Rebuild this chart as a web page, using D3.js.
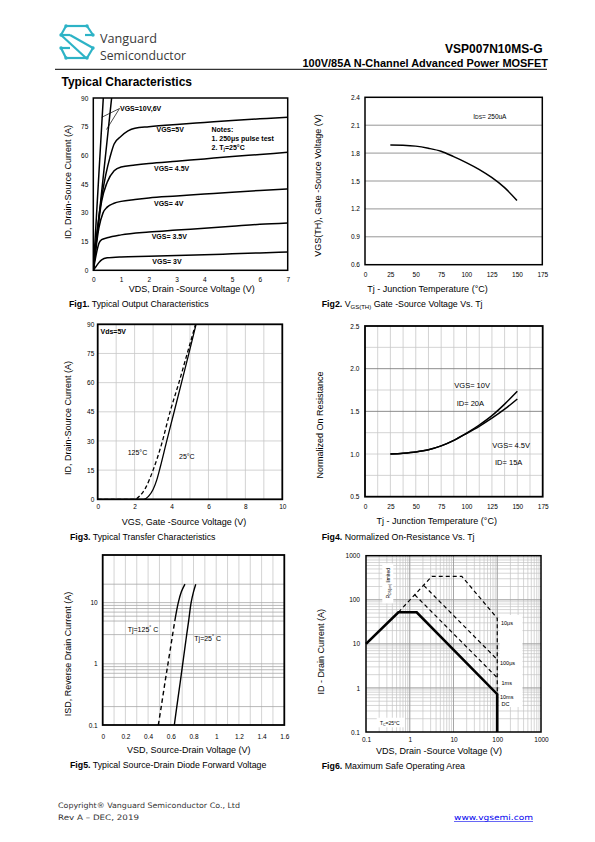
<!DOCTYPE html>
<html><head><meta charset="utf-8">
<script src="https://cdn.jsdelivr.net/npm/d3@7"></script>
<style>
body{margin:0;background:#fff}
svg{display:block}
</style></head><body>
<svg id="page" width="595" height="842"></svg>
<script>
// ================= DATA =================
// Fig1 – output characteristics  [VDS (V), ID (A)]
const fig1XTicks = [0,1,2,3,4,5,6,7];
const fig1YTicks = [0,15,30,45,60,75,90];
const fig1Vgs10 = [[0,0],[0.18,45],[0.36,90]];
const fig1Vgs6  = [[0,0],[0.33,45],[0.66,90]];
const fig1Vgs5  = [[0,0],[0.15,22],[0.3,38],[0.45,50],[0.6,59],[0.75,66],[1,70],[1.25,72.8],[1.5,74.2],[2,75],[3,76.2],[4,77.2],[5,78.2],[6,79.1],[7,80]];
const fig1Vgs45 = [[0,0],[0.15,20],[0.3,36],[0.5,46],[0.75,52],[1,54],[1.5,55],[2,55.8],[3,57],[4,58.2],[5,59.4],[6,60.5],[7,61.6]];
const fig1Vgs4  = [[0,0],[0.1,12],[0.2,22],[0.35,30],[0.5,33],[0.75,35],[1,36],[1.5,37],[2,37.8],[3,38.8],[4,39.8],[5,40.8],[6,41.7],[7,42.5]];
const fig1Vgs35 = [[0,0],[0.1,8],[0.2,14],[0.3,16],[0.5,17],[1,18.5],[2,20],[3,21],[4,22],[5,23],[6,24],[7,24.7]];
const fig1Vgs3  = [[0,0],[0.1,2],[0.2,4],[0.3,5.5],[0.5,6.5],[1,7],[2,7.3],[3,7.7],[4,8.1],[5,8.6],[6,9.1],[7,9.6]];

// Fig2 – VGS(th) vs Tj
const fig2XTicks = [0,25,50,75,100,125,150,175];
const fig2YTicks = [0.6,0.9,1.2,1.5,1.8,2.1,2.4];
const fig2Tj  = [25,37.5,50,62.5,75,87.5,100,112.5,125,137.5,150];
const fig2Vth = [1.887,1.885,1.875,1.852,1.82,1.762,1.698,1.625,1.538,1.431,1.29];

// Fig3 – transfer characteristics
const fig3XTicks = [0,2,4,6,8,10];
const fig3YTicks = [0,15,30,45,60,75,90];
const fig3Vgs25  = [0,2.5,2.75,3.0,3.2,3.4,3.7,4.1,4.5,4.9,5.33];
const fig3Id25   = [0,0,1.5,5,10,17,28.5,43.5,58.5,73.5,90];
const fig3Vgs125 = [0,2.0,2.3,2.6,3.0,3.45,3.92,4.4,4.85,5.3];
const fig3Id125  = [0,0,2,6,15,28,45,60,75,90];

// Fig4 – normalized RDS(on) vs Tj
const fig4XTicks = [0,25,50,75,100,125,150,175];
const fig4YTicks = [0.5,1.0,1.5,2.0,2.5];
const fig4Tj       = [25,37.5,50,62.5,75,87.5,100,112.5,125,137.5,150];
const fig4RVgs10   = [1.0,1.01,1.025,1.05,1.095,1.16,1.245,1.34,1.45,1.585,1.735];
const fig4RVgs45   = [1.0,1.01,1.025,1.05,1.095,1.16,1.24,1.325,1.42,1.525,1.645];

// Fig5 – body diode forward voltage
const fig5XTicks = [0,0.2,0.4,0.6,0.8,1,1.2,1.4,1.6];
const fig5YTicks = [0.1,1,10];
const fig5YGrid  = [0.2,0.6,0.7,0.8,0.9,1,3,5,6,7,8,9,10,20];
const fig5Isd    = [0.1,0.2,0.5,1,2,3,5,10,15,20];
const fig5Vsd125 = [0.49,0.516,0.549,0.575,0.601,0.616,0.635,0.666,0.693,0.725];
const fig5Vsd25  = [0.631,0.653,0.683,0.705,0.727,0.740,0.757,0.779,0.80,0.82];

// Fig6 – safe operating area [VDS, ID]
const fig6XTicks = [0.1,1,10,100,1000];
const fig6YTicks = [0.1,1,10,100,1000];
const fig6Dc    = [[0.1,10],[0.55,52],[1.44,52],[100,0.72],[100,0.1]];
const fig6Us10  = [[0.55,52],[3.2,340],[15.5,340],[100,38],[100,0.72]];
const fig6Us100 = [[2.1,210],[100,4.4]];
const fig6Ms1   = [[1.3,130],[100,1.7]];

// ================= DRAWING =================
const svg = d3.select("#page");
const SANS = "'Liberation Sans', Arial, Helvetica, sans-serif";
const NARROW = "'Liberation Sans Narrow', 'Arial Narrow', 'Liberation Sans', Arial, sans-serif";

function txt(g, x, y, s, o = {}) {
  const t = g.append("text").attr("x", x).attr("y", y)
    .attr("font-family", o.family || SANS)
    .attr("font-size", o.size || 9)
    .attr("font-weight", o.weight || "normal")
    .attr("fill", o.fill || "#000")
    .attr("text-anchor", o.anchor || "start");
  if (o.rotate) t.attr("transform", `rotate(-90,${x},${y})`);
  if (o.len) t.attr("textLength", o.len).attr("lengthAdjust", "spacingAndGlyphs");
  t.text(s);
  return t;
}

function axes(g, x, y, xt, yt, o) {
  const fmt = o.fmt || (d => d);
  const ax = g.append("g").attr("transform", `translate(0,${y.range()[0]})`)
    .call(d3.axisBottom(x).tickValues(xt).tickFormat(o.xfmt || fmt).tickSize(0).tickPadding(o.xpad));
  ax.select(".domain").remove();
  ax.attr("font-size", o.tsize || 6.5).attr("font-family", o.tfam || SANS);
  ax.selectAll("text").attr("fill", "#000");
  const ay = g.append("g").attr("transform", `translate(${x.range()[0]},0)`)
    .call(d3.axisLeft(y).tickValues(yt).tickFormat(o.yfmt || fmt).tickSize(0).tickPadding(o.ypad));
  ay.select(".domain").remove();
  ay.attr("font-size", o.tsize || 6.5).attr("font-family", o.tfam || SANS);
  ay.selectAll("text").attr("fill", "#000");
}

function frame(g, x, y, w) {
  const [x0, x1] = x.range(), [y0, y1] = y.range();
  g.append("rect").attr("x", x0).attr("y", y1).attr("width", x1 - x0).attr("height", y0 - y1)
    .attr("fill", "none").attr("stroke", "#000").attr("stroke-width", w || 1.6);
}
function hgrid(g, x, y, vals, color, w) {
  g.append("g").selectAll("line").data(vals).join("line")
    .attr("x1", x.range()[0]).attr("x2", x.range()[1])
    .attr("y1", d => y(d)).attr("y2", d => y(d))
    .attr("stroke", color).attr("stroke-width", w || 0.8);
}
function vgrid(g, x, y, vals, color, w) {
  g.append("g").selectAll("line").data(vals).join("line")
    .attr("y1", y.range()[0]).attr("y2", y.range()[1])
    .attr("x1", d => x(d)).attr("x2", d => x(d))
    .attr("stroke", color).attr("stroke-width", w || 0.8);
}
function caption(g, x, y, bold, rest) {
  const t = g.append("text").attr("x", x).attr("y", y).attr("font-family", SANS).attr("font-size", 8.8);
  t.append("tspan").attr("font-weight", "bold").text(bold);
  t.append("tspan").text(rest);
  return t;
}

// ---------- Header ----------
const hdr = svg.append("g");
const teal = "#2db3c6";
const logo = hdr.append("g").attr("stroke", teal).attr("stroke-width", 2.2).attr("fill", "none").attr("stroke-linejoin", "round");
const logoSegs = [
  [[66,26],[87,26]],[[87,26],[93,35]],[[66,26],[61,35]],[[61,35],[70,35]],[[93,35],[85,35]],
  [[61,35],[86,58]],[[70,35],[93,48]],
  [[93,48],[87,58]],[[61,48],[66,58]],[[66,58],[87,58]],[[61,48],[70,48]]
];
logo.selectAll("path").data(logoSegs).join("path").attr("d", d => d3.line()(d));
logo.selectAll("circle").data([[66,26],[87,26],[93,35],[61,35],[61,48],[93,48],[66,58],[87,58]]).join("circle")
  .attr("cx", d => d[0]).attr("cy", d => d[1]).attr("r", 1.7).attr("fill", teal).attr("stroke", "none");
txt(hdr, 100, 43, "Vanguard", {size: 13, fill: "#3a3a3a", family: "'Open Sans', 'Liberation Sans', sans-serif", len: 57});
txt(hdr, 100, 60, "Semiconductor", {size: 13, fill: "#3a3a3a", family: "'Open Sans', 'Liberation Sans', sans-serif", len: 86});
txt(hdr, 542.5, 53, "VSP007N10MS-G", {size: 12, weight: "bold", anchor: "end"});
txt(hdr, 302.5, 66.5, "100V/85A N-Channel Advanced Power MOSFET", {size: 10, weight: "bold", len: 245.5});
hdr.append("line").attr("x1", 55).attr("x2", 547).attr("y1", 69.3).attr("y2", 69.3).attr("stroke", "#000").attr("stroke-width", 1);
txt(hdr, 61.5, 85.5, "Typical Characteristics", {size: 12, weight: "bold"});

// ---------- Fig1 ----------
{
  const g = svg.append("g");
  const x = d3.scaleLinear([0, 7], [93.3, 287.7]);
  const y = d3.scaleLinear([0, 90], [270.3, 98]);
  g.append("clipPath").attr("id", "c1").append("rect")
    .attr("x", 93.3).attr("y", 98).attr("width", 194.4).attr("height", 172.3);
  const line = d3.line().x(d => x(d[0])).y(d => y(d[1])).curve(d3.curveMonotoneX);
  const series = [fig1Vgs10, fig1Vgs6, fig1Vgs5, fig1Vgs45, fig1Vgs4, fig1Vgs35, fig1Vgs3];
  g.append("g").attr("clip-path", "url(#c1)").selectAll("path").data(series).join("path")
    .attr("d", line).attr("fill", "none").attr("stroke", "#000").attr("stroke-width", 1.5);
  frame(g, x, y, 1.5);
  axes(g, x, y, fig1XTicks, fig1YTicks, {xpad: 7, ypad: 5, tfam: NARROW});
  const lb = {size: 7, weight: "bold", family: NARROW};
  txt(g, 120, 110.5, "VGS=10V,6V", lb);
  g.append("path").attr("d", "M119.5,108.5 L101.7,117.3 M119.5,108.5 L106.5,129.5").attr("stroke", "#000").attr("stroke-width", 0.7).attr("fill", "none");
  txt(g, 156.5, 132.3, "VGS=5V", lb);
  txt(g, 211.5, 132, "Notes:", lb);
  txt(g, 211.5, 141.3, "1. 250\u03bcs pulse test", lb);
  const n2 = txt(g, 211.5, 149.5, "2. T", lb);
  n2.append("tspan").attr("font-size", 5).attr("dy", 1.5).text("j");
  n2.append("tspan").attr("dy", -1.5).text("=25\u00b0C");
  txt(g, 154, 170.7, "VGS= 4.5V", lb);
  txt(g, 154, 206.3, "VGS= 4V", lb);
  txt(g, 151.7, 238.7, "VGS= 3.5V", lb);
  txt(g, 152.3, 263.7, "VGS= 3V", lb);
  txt(g, 191.7, 292, "VDS, Drain -Source Voltage (V)", {size: 9, anchor: "middle"});
  txt(g, 71.3, 182, "ID, Drain-Source Current (A)", {size: 9, anchor: "middle", rotate: true});
  caption(g, 69, 307, "Fig1.", " Typical Output Characteristics");
}

// ---------- Fig2 ----------
{
  const g = svg.append("g");
  const x = d3.scaleLinear([0, 175], [365, 542.3]);
  const y = d3.scaleLinear([0.6, 2.4], [264.7, 97.3]);
  hgrid(g, x, y, fig2YTicks.slice(1, -1), "#8a8a8a", 0.9);
  const line = d3.line().x((d, i) => x(fig2Tj[i])).y(d => y(d)).curve(d3.curveCatmullRom.alpha(0.5));
  g.append("path").attr("d", line(fig2Vth)).attr("fill", "none").attr("stroke", "#000").attr("stroke-width", 1.5);
  frame(g, x, y, 1.5);
  axes(g, x, y, fig2XTicks, fig2YTicks, {xpad: 7.7, ypad: 5, tfam: NARROW, yfmt: d3.format(".1f")});
  const t = txt(g, 473.3, 118.7, "I", {size: 6.5, family: NARROW});
  t.append("tspan").attr("font-size", 5).text("DS");
  t.append("tspan").text("= 250uA");
  txt(g, 427.5, 292, "Tj - Junction Temperature (\u00b0C)", {size: 9, anchor: "middle"});
  txt(g, 321.3, 185.5, "VGS(TH), Gate -Source Voltage (V)", {size: 9, anchor: "middle", rotate: true});
  const c = caption(g, 321.7, 307, "Fig2.", " V");
  c.append("tspan").attr("font-size", 6).attr("dy", 1.5).text("GS(TH)");
  c.append("tspan").attr("dy", -1.5).text(" Gate -Source Voltage Vs. Tj");
}

// ---------- Fig3 ----------
{
  const g = svg.append("g");
  const x = d3.scaleLinear([0, 10], [97.7, 282.3]);
  const y = d3.scaleLinear([0, 90], [499.3, 324.3]);
  vgrid(g, x, y, d3.range(1, 10), "#c8c8c8", 0.8);
  hgrid(g, x, y, fig3YTicks.slice(1, -1), "#c8c8c8", 0.8);
  const line = d3.line().x(d => x(d[0])).y(d => y(d[1])).curve(d3.curveMonotoneX);
  g.append("path").attr("d", line(d3.zip(fig3Vgs125, fig3Id125))).attr("fill", "none")
    .attr("stroke", "#000").attr("stroke-width", 1.3).attr("stroke-dasharray", "4,2.5");
  g.append("path").attr("d", line(d3.zip(fig3Vgs25, fig3Id25))).attr("fill", "none")
    .attr("stroke", "#000").attr("stroke-width", 1.3);
  frame(g, x, y, 1.8);
  axes(g, x, y, fig3XTicks, fig3YTicks, {xpad: 5.4, ypad: 3.4});
  txt(g, 100.5, 333.5, "Vds=5V", {size: 7, weight: "bold", family: NARROW});
  txt(g, 127.7, 455, "125\u00b0C", {size: 7, family: NARROW});
  txt(g, 179, 459, "25\u00b0C", {size: 7, family: NARROW});
  txt(g, 184, 525, "VGS, Gate -Source Voltage (V)", {size: 9, anchor: "middle"});
  txt(g, 71.3, 418, "ID, Drain-Source Current (A)", {size: 9, anchor: "middle", rotate: true});
  caption(g, 70, 539.5, "Fig3.", " Typical Transfer Characteristics");
}

// ---------- Fig4 ----------
{
  const g = svg.append("g");
  const x = d3.scaleLinear([0, 175], [365, 542.7]);
  const y = d3.scaleLinear([0.5, 2.5], [496.7, 326]);
  vgrid(g, x, y, d3.range(12.5, 175, 12.5), "#c8c8c8", 0.8);
  hgrid(g, x, y, [0.75, 1.0, 1.25, 1.75, 2.25], "#c8c8c8", 0.8);
  hgrid(g, x, y, [1.5, 2.0], "#808080", 0.9);
  const line = d3.line().x((d, i) => x(fig4Tj[i])).y(d => y(d)).curve(d3.curveMonotoneX);
  g.append("g").selectAll("path").data([fig4RVgs10, fig4RVgs45]).join("path")
    .attr("d", line).attr("fill", "none").attr("stroke", "#000").attr("stroke-width", 1.5);
  frame(g, x, y, 1.8);
  axes(g, x, y, fig4XTicks, fig4YTicks, {xpad: 8, ypad: 5.7, tfam: NARROW, yfmt: d3.format(".1f")});
  const lb = {size: 7.5, family: NARROW};
  txt(g, 454.3, 388.3, "VGS= 10V", lb);
  txt(g, 456.7, 406, "ID= 20A", lb);
  txt(g, 492.3, 447.7, "VGS= 4.5V", lb);
  txt(g, 495, 465, "ID= 15A", lb);
  txt(g, 436.7, 524.3, "Tj - Junction Temperature (\u00b0C)", {size: 9, anchor: "middle"});
  txt(g, 323, 425, "Normalized On Resistance", {size: 9, anchor: "middle", rotate: true, family: NARROW});
  caption(g, 321.7, 539.5, "Fig4.", " Normalized On-Resistance Vs. Tj");
}

// ---------- Fig5 ----------
{
  const g = svg.append("g");
  const x = d3.scaleLinear([0, 1.6], [102.7, 284.3]);
  const y = d3.scaleLog([0.1, 60], [725, 555]);
  vgrid(g, x, y, d3.range(1, 16).map(i => i / 10), "#c8c8c8", 0.8);
  hgrid(g, x, y, fig5YGrid, "#a8a8a8", 0.8);
  const line = d3.line().x(d => x(d[0])).y(d => y(d[1])).curve(d3.curveCatmullRom.alpha(0.5));
  const p125 = d3.zip(fig5Vsd125, fig5Isd);
  g.append("path").attr("d", line(p125.filter(d => d[1] <= 5))).attr("fill", "none")
    .attr("stroke", "#000").attr("stroke-width", 1.4).attr("stroke-dasharray", "4.5,3");
  g.append("path").attr("d", line(p125.filter(d => d[1] >= 5))).attr("fill", "none")
    .attr("stroke", "#000").attr("stroke-width", 1.4);
  g.append("path").attr("d", line(d3.zip(fig5Vsd25, fig5Isd))).attr("fill", "none")
    .attr("stroke", "#000").attr("stroke-width", 1.4);
  frame(g, x, y, 1.8);
  axes(g, x, y, fig5XTicks, fig5YTicks, {xpad: 9, ypad: 5, tfam: NARROW, yfmt: d => d});
  const a = txt(g, 127.7, 631.7, "Tj=125", {size: 7, family: NARROW});
  a.append("tspan").attr("dy", -2.5).attr("font-size", 5).text("\u00b0");
  a.append("tspan").attr("dy", 2.5).text(" C");
  const b = txt(g, 194.3, 640.7, "Tj=25", {size: 7, family: NARROW});
  b.append("tspan").attr("dy", -2.5).attr("font-size", 5).text("\u00b0");
  b.append("tspan").attr("dy", 2.5).text(" C");
  txt(g, 188.7, 752.5, "VSD, Source-Drain Voltage (V)", {size: 9, anchor: "middle"});
  txt(g, 71.3, 654, "ISD, Reverse Drain Current (A)", {size: 9, anchor: "middle", rotate: true});
  caption(g, 70, 768, "Fig5.", " Typical Source-Drain Diode Forward Voltage");
}

// ---------- Fig6 ----------
{
  const g = svg.append("g");
  const x = d3.scaleLog([0.1, 1000], [366, 541]);
  const y = d3.scaleLog([0.1, 1000], [732, 555.7]);
  const minor = x.ticks().filter(d => d > 0.1 && d < 1000);
  vgrid(g, x, y, minor, "#c4c4c4", 0.7);
  hgrid(g, x, y, y.ticks().filter(d => d > 0.1 && d < 1000), "#c4c4c4", 0.7);
  vgrid(g, x, y, [1, 10, 100], "#999", 0.8);
  hgrid(g, x, y, [1, 10, 100], "#999", 0.8);
  // label backgrounds
  g.append("rect").attr("x", 499.5).attr("y", 615).attr("width", 23).attr("height", 92).attr("fill", "#fff");
  g.append("rect").attr("x", 382.3).attr("y", 563.3).attr("width", 11).attr("height", 40).attr("fill", "#fff");
  g.append("rect").attr("x", 376.7).attr("y", 717.7).attr("width", 28.3).attr("height", 9.6).attr("fill", "#fff");
  const line = d3.line().x(d => x(d[0])).y(d => y(d[1]));
  g.append("g").selectAll("path").data([fig6Us10, fig6Us100, fig6Ms1]).join("path")
    .attr("d", line).attr("fill", "none").attr("stroke", "#000").attr("stroke-width", 1.2).attr("stroke-dasharray", "4,3");
  g.append("path").attr("d", line(fig6Dc)).attr("fill", "none").attr("stroke", "#000").attr("stroke-width", 2.6);
  frame(g, x, y, 1.5);
  axes(g, x, y, fig6XTicks, fig6YTicks, {xpad: 5.7, ypad: 6, tfam: NARROW, xfmt: d => d, yfmt: d => d});
  const s = {size: 5.5, family: NARROW};
  txt(g, 501, 624.5, "10\u03bcs", s);
  txt(g, 500, 664.5, "100\u03bcs", s);
  txt(g, 501.5, 684.5, "1ms", s);
  txt(g, 500, 698.5, "10ms", s);
  txt(g, 501.5, 706, "DC", s);
  const tc = txt(g, 380, 724.5, "T", {size: 5, family: NARROW});
  tc.append("tspan").attr("font-size", 3.5).attr("dy", 1).text("C");
  tc.append("tspan").attr("dy", -1).text("=25\u00b0C");
  const rd = txt(g, 389.7, 583.3, "R", {size: 5, family: NARROW, anchor: "middle", rotate: true});
  rd.append("tspan").attr("font-size", 3.5).attr("dy", 1).text("DS(on)");
  rd.append("tspan").attr("dy", -1).text(" limited");
  txt(g, 439, 753.5, "VDS, Drain -Source Voltage (V)", {size: 9, anchor: "middle"});
  txt(g, 324, 651.7, "ID - Drain Current (A)", {size: 9, anchor: "middle", rotate: true});
  caption(g, 321.7, 768.5, "Fig6.", " Maximum Safe Operating Area");
}

// ---------- Footer ----------
{
  const g = svg.append("g");
  const f = "'DejaVu Sans', Verdana, sans-serif";
  txt(g, 58, 808, "Copyright\u00ae Vanguard Semiconductor Co., Ltd", {size: 7.5, family: f, fill: "#333", len: 182});
  txt(g, 58, 820, "Rev A \u2013 DEC, 2019", {size: 7.5, family: f, fill: "#333", len: 81});
  txt(g, 454, 820, "www.vgsemi.com", {size: 7.5, family: f, fill: "#0000ee", len: 79});
  g.append("line").attr("x1", 454).attr("x2", 533).attr("y1", 821.5).attr("y2", 821.5).attr("stroke", "#0000ee").attr("stroke-width", 0.6);
}
</script>
</body></html>
